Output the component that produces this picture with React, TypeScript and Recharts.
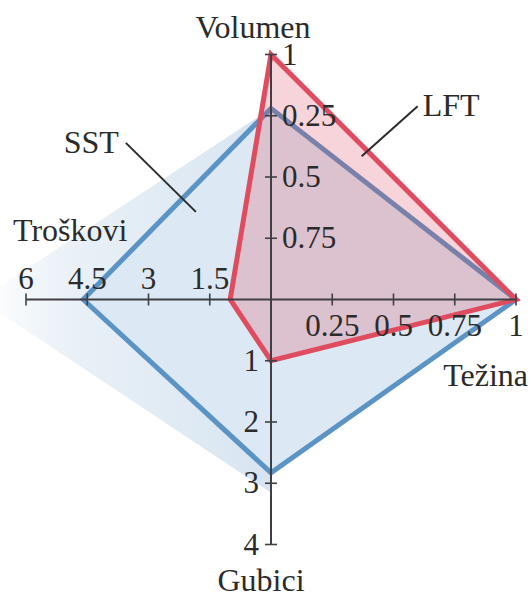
import React from 'react';
import { RadarChart, Radar, PolarAngleAxis, PolarRadiusAxis } from 'recharts';

const categories = ['Volumen', 'Težina', 'Gubici', 'Troškovi'];
const axisMax = [1, 1, 4, 6];
const lftValues = [1, 1, 1, 1];
const sstValues = [0.78, 1, 2.83, 4.6];

const volumenTicks = [0.25, 0.5, 0.75, 1];
const volumenTickLabels = ['0.75', '0.5', '0.25', '1'];
const tezinaTicks = [0.25, 0.5, 0.75, 1];
const gubiciTicks = [1, 2, 3, 4];
const troskoviTicks = [1.5, 3, 4.5, 6];

const data = categories.map((name, i) => ({
  name,
  LFT: lftValues[i] / axisMax[i],
  SST: sstValues[i] / axisMax[i],
}));

const FONT = '"Liberation Serif", "Times New Roman", serif';
const INK = '#2b2b2b';
const AXIS = '#3f3f45';
const RED = '#df4b5f';
const BLUE = '#5b93c4';

// tick mark + label, placed on one side of the axis (value 0 only anchors the axis line at the centre)
const makeTick = (side: 'right' | 'below' | 'left' | 'above', ticks: number[], labels?: string[]) =>
  (props: any) => {
    const { x, y, payload } = props;
    if (payload.value === 0) return <g />;
    const i = ticks.indexOf(payload.value);
    const text = labels ? labels[i] : String(payload.value);
    const vertical = side === 'right' || side === 'left';
    let tx = x, ty = y, anchor: 'start' | 'middle' | 'end' = 'middle';
    if (side === 'right') { tx = x + 11; ty = y + 10; anchor = 'start'; }
    if (side === 'left') { tx = x - 12; ty = y + 10; anchor = 'end'; }
    if (side === 'below') { ty = y + 36; }
    if (side === 'above') { ty = y - 11; }
    return (
      <g>
        {vertical
          ? <line x1={x - 6} x2={x + 6} y1={y} y2={y} stroke={AXIS} strokeWidth={1.6} />
          : <line x1={x} x2={x} y1={y - 6} y2={y + 6} stroke={AXIS} strokeWidth={1.6} />}
        <text x={tx} y={ty} textAnchor={anchor} fill={INK} fontFamily={FONT} fontSize={31}>{text}</text>
      </g>
    );
  };

// category names around the chart
const labelPos = [
  { dx: -18, dy: -9, anchor: 'middle' },
  { dx: 4, dy: 86, anchor: 'end' },
  { dx: -10, dy: 38, anchor: 'middle' },
  { dx: -5, dy: -59, anchor: 'start' },
];

const CategoryTick = (props: any) => {
  const { x, y, index } = props;
  const p = labelPos[index];
  return (
    <text x={x + p.dx} y={y + p.dy} textAnchor={p.anchor} fill={INK} fontFamily={FONT} fontSize={32}>
      {props.payload.value}
    </text>
  );
};

const toPts = (points: any[]) => points.map((p) => `${p.x},${p.y}`).join(' ');
const toPath = (points: any[]) => 'M' + points.map((p) => `${p.x},${p.y}`).join('L') + 'Z';

const SstShape = (props: any) => {
  const { points } = props;
  const [top, , bottom, left] = points;
  const cx = top.x;
  // soft shadow stretching out to the left, kept outside the polygon
  const apex = { x: left.x - 0.55 * (cx - left.x), y: left.y };
  const low = { x: bottom.x, y: bottom.y + 20 };
  const shadow = toPath([top, apex, low]) + toPath([top, left, bottom]);
  // leader line for the series name
  const t = 0.6;
  const ex = left.x + (top.x - left.x) * t;
  const ey = left.y + (top.y - left.y) * t + 27;
  return (
    <g>
      <defs>
        <linearGradient id="sstShadow" gradientUnits="userSpaceOnUse" x1={apex.x} y1={0} x2={cx} y2={0}>
          <stop offset="0%" stopColor="#d0e0ee" stopOpacity={0} />
          <stop offset="30%" stopColor="#d0e0ee" stopOpacity={0.45} />
          <stop offset="100%" stopColor="#d0e0ee" stopOpacity={0.85} />
        </linearGradient>
      </defs>
      <path d={shadow} fill="url(#sstShadow)" fillRule="evenodd" stroke="none" />
      <polygon points={toPts(points)} fill="#6ea0cd" fillOpacity={0.24} stroke={BLUE} strokeWidth={5} />
      <line x1={ex} y1={ey} x2={ex - 70} y2={ey - 69} stroke={INK} strokeWidth={2} />
      <text x={ex - 77} y={ey - 59} textAnchor="end" fill={INK} fontFamily={FONT} fontSize={32}>SST</text>
    </g>
  );
};

const LftShape = (props: any) => {
  const { points } = props;
  const [top, right] = points;
  const t = 0.37;
  const ex = top.x + (right.x - top.x) * t;
  const ey = top.y + (right.y - top.y) * t + 11;
  return (
    <g>
      <polygon points={toPts(points)} fill="#dc465a" fillOpacity={0.23} stroke={RED} strokeWidth={5} />
      <line x1={ex} y1={ey} x2={ex + 56} y2={ey - 50} stroke={INK} strokeWidth={2} />
      <text x={ex + 61} y={ey - 40} textAnchor="start" fill={INK} fontFamily={FONT} fontSize={32}>LFT</text>
    </g>
  );
};

const axisLine = { stroke: AXIS, strokeWidth: 2 };

export default function App() {
  return (
    <div style={{ position: 'absolute', left: 0, top: 0, width: 531, height: 597, background: '#fff' }}>
      <RadarChart
        width={531}
        height={597}
        data={data}
        cx={271}
        cy={299.5}
        outerRadius={245}
        margin={{ top: 0, right: 0, bottom: 0, left: 0 }}
      >
        <PolarAngleAxis dataKey="name" axisLine={false} tickLine={false} tick={<CategoryTick />} />
        <PolarRadiusAxis radiusAxisId="norm" domain={[0, 1]} axisLine={false} tick={false} />
        <PolarRadiusAxis radiusAxisId="vol" angle={90} type="number" domain={[0, 1]} allowDataOverflow
          ticks={[0, ...volumenTicks]} axisLine={axisLine} tick={makeTick('right', volumenTicks, volumenTickLabels)} />
        <PolarRadiusAxis radiusAxisId="tez" angle={0} type="number" domain={[0, 1]} allowDataOverflow
          ticks={[0, ...tezinaTicks]} axisLine={axisLine} tick={makeTick('below', tezinaTicks)} />
        <PolarRadiusAxis radiusAxisId="gub" angle={-90} type="number" domain={[0, 4]} allowDataOverflow
          ticks={[0, ...gubiciTicks]} axisLine={axisLine} tick={makeTick('left', gubiciTicks)} />
        <PolarRadiusAxis radiusAxisId="tro" angle={180} type="number" domain={[0, 6]} allowDataOverflow
          ticks={[0, ...troskoviTicks]} axisLine={axisLine} tick={makeTick('above', troskoviTicks)} />
        <Radar name="SST" dataKey="SST" radiusAxisId="norm" shape={<SstShape />} isAnimationActive={false} />
        <Radar name="LFT" dataKey="LFT" radiusAxisId="norm" shape={<LftShape />} isAnimationActive={false} />
      </RadarChart>
    </div>
  );
}
